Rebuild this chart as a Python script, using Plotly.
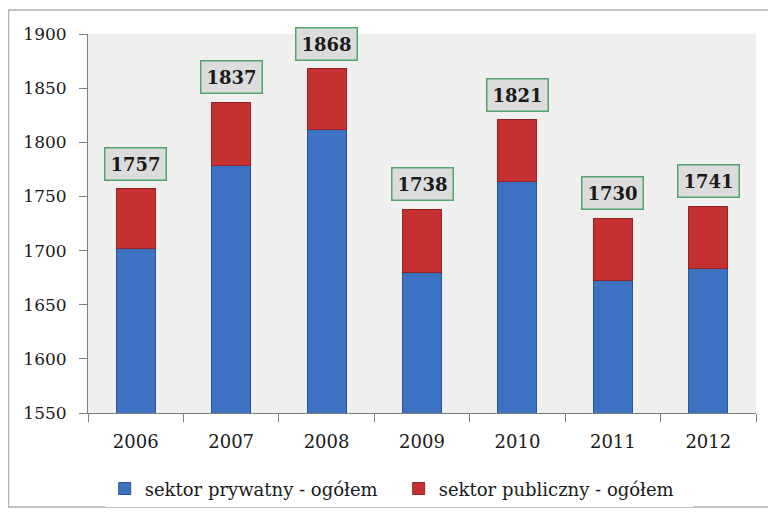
import plotly.graph_objects as go

years = ["2006", "2007", "2008", "2009", "2010", "2011", "2012"]
prywatny = [1702, 1779, 1812, 1680, 1764, 1672, 1683]
publiczny = [55, 58, 56, 58, 57, 58, 58]
totals = [1757, 1837, 1868, 1738, 1821, 1730, 1741]

font_family = "DejaVu Serif"

fig = go.Figure()
fig.add_trace(go.Bar(x=years, y=prywatny, name="sektor prywatny - ogółem",
                     marker=dict(color="#3d72c2", line=dict(color="#2b5597", width=1))))
fig.add_trace(go.Bar(x=years, y=publiczny, name="sektor publiczny - ogółem",
                     marker=dict(color="#c53030", line=dict(color="#952222", width=1))))

# total labels in green-framed boxes above each bar (x given as category index)
for i, tot in enumerate(totals):
    fig.add_annotation(x=i, y=tot, text="<b>%d</b>" % tot, showarrow=False,
                       yanchor="bottom", yshift=8,
                       font=dict(family=font_family, size=18, color="#1a1a1a"),
                       bgcolor="#dcdcdc", bordercolor="#4fa56d", borderwidth=1.5, borderpad=5)

# outer frame around the whole chart
fig.add_shape(type="rect", xref="paper", yref="paper",
              x0=-0.119, x1=1.0195, y0=-0.248, y1=1.063,
              line=dict(color="#b0b0b0", width=1.5), layer="below")

# page body adds an 8px offset, so the figure is drawn 8px smaller
fig.update_layout(
    barmode="stack",
    bargap=0.59,
    width=768, height=507,
    margin=dict(l=80, r=20, t=26, b=102, autoexpand=False),
    plot_bgcolor="#efefef",
    paper_bgcolor="white",
    font=dict(family=font_family, size=17, color="#1a1a1a"),
    showlegend=True,
    legend=dict(orientation="h", x=0.025, xanchor="left", y=-0.2, yanchor="middle",
                font=dict(family=font_family, size=18), itemwidth=30,
                entrywidth=249, entrywidthmode="pixels",
                traceorder="normal"),
    xaxis=dict(type="category", range=[-0.5, 6.5], showline=True, linecolor="#7f7f7f",
               linewidth=1, ticks="outside", tickson="boundaries", ticklen=8,
               tickcolor="#7f7f7f", ticklabelstandoff=12, tickfont=dict(size=18)),
    yaxis=dict(range=[1550, 1900], dtick=50, showgrid=False, zeroline=False,
               showline=True, linecolor="#7f7f7f", linewidth=1,
               ticks="outside", ticklen=8, tickcolor="#7f7f7f",
               ticklabelstandoff=9, tickfont=dict(size=17)),
)

fig.write_html("out.html")
